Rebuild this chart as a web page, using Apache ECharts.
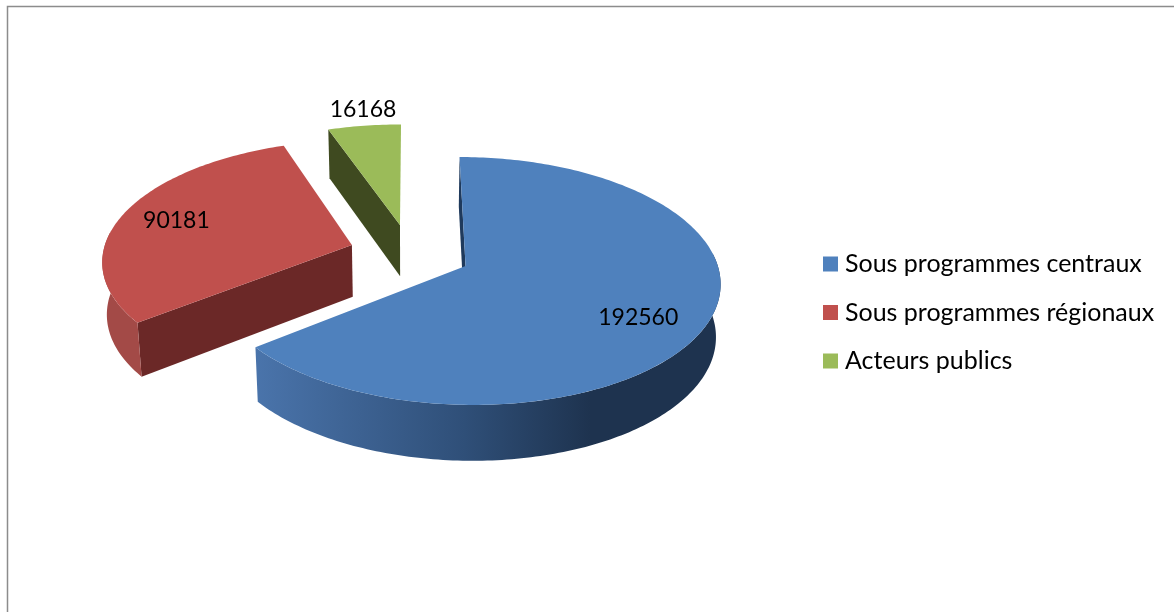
<!DOCTYPE html>
<html>
<head>
<meta charset="utf-8">
<title>Répartition par sous programme</title>
<style>
  html, body { margin: 0; padding: 0; background: #fff; }
  #chart { width: 1174px; height: 612px; }
</style>
<script src="https://cdn.jsdelivr.net/npm/echarts@6/dist/echarts.min.js"></script>
</head>
<body>
<div id="chart"></div>
<script>
const categories = ['Sous programmes centraux', 'Sous programmes régionaux', 'Acteurs publics']
const values = [192560, 90181, 16168]

const topColors = ['#4f81bd', '#c0504d', '#9bbb59']
const edgeColors = ['#1f3a5c', '#6b2827', '#3f4a20']
const wallStops = [
  [[0, '#4a74ab'], [0.45, '#2f4f78'], [0.72, '#1e334f'], [1, '#1e334f']],
  [[0, '#a34a47'], [1, '#a34a47']],
  [[0, '#3f4a20'], [1, '#3f4a20']],
]
const labelRadius = [0.755, 0.765, 1.18]
const labelTurn = [6, 0, 1]

// fake 3D: the disc is projected with a small perspective, ECharts has no 3D pie without GL
const CX = 410
const CY = 253
const RX = 249
const RY = 119
const PERSP = 0.12
const DEPTH = 52
const BASE_SHRINK = 0.015
const EXPLODE = 0.245
const FIRST_ANGLE = 0
// only this part of the rim faces the viewer
const WALL_FROM = 84
const WALL_TO = 276

const total = values.reduce((a, b) => a + b, 0)

function project(x, z, h) {
  const s = 1 / (1 - PERSP * z)
  return [CX + RX * x * s * (1 - BASE_SHRINK * h), CY + RY * z * s + DEPTH * h * Math.sqrt(s)]
}

function sliceRange(idx) {
  const before = values.slice(0, idx).reduce((a, b) => a + b, 0)
  return [FIRST_ANGLE + before / total * 360, FIRST_ANGLE + (before + values[idx]) / total * 360]
}

// angle is clockwise from the back of the pie
function diskPoint(idx, deg, r, h) {
  const [a0, a1] = sliceRange(idx)
  const mid = (a0 + a1) / 2 * Math.PI / 180
  const a = deg * Math.PI / 180
  const x = EXPLODE * Math.sin(mid) + r * Math.sin(a)
  const z = -EXPLODE * Math.cos(mid) - r * Math.cos(a)
  return project(x, z, h)
}

function arcPoints(idx, from, to, h) {
  const pts = []
  const n = Math.max(8, Math.ceil(Math.abs(to - from)))
  for (let i = 0; i <= n; i++) pts.push(diskPoint(idx, from + (to - from) * i / n, 1, h))
  return pts
}

function renderSlice(idx) {
  return function (params, api) {
    const [a0, a1] = sliceRange(idx)
    const tip = diskPoint(idx, a0, 0, 0)
    const tipLow = diskPoint(idx, a0, 0, 1)
    const top = arcPoints(idx, a0, a1, 0)
    const mid = (a0 + a1) / 2 + labelTurn[idx]
    const at = diskPoint(idx, mid, labelRadius[idx], 0)
    const children = [
      {
        type: 'polygon',
        shape: { points: [tip, top[0], diskPoint(idx, a0, 1, 1), tipLow] },
        style: { fill: edgeColors[idx] },
      },
    ]
    const w0 = Math.max(a0, WALL_FROM)
    const w1 = Math.min(a1, WALL_TO)
    if (w1 > w0) {
      children.push({
        type: 'polygon',
        shape: { points: arcPoints(idx, w0, w1, 0).concat(arcPoints(idx, w1, w0, 1)) },
        style: {
          fill: new echarts.graphic.LinearGradient(0, 0, 1, 0,
            wallStops[idx].map(([offset, color]) => ({ offset, color }))),
        },
      })
    }
    children.push(
      {
        type: 'polygon',
        shape: { points: [tip].concat(top) },
        style: { fill: topColors[idx] },
      },
      {
        type: 'text',
        x: at[0],
        y: at[1],
        style: {
          text: String(api.value(0)),
          fill: '#000',
          font: '23px Lato',
          align: 'center',
          verticalAlign: 'middle',
        },
      }
    )
    return { type: 'group', children }
  }
}

const chart = echarts.init(document.getElementById('chart'), null, { renderer: 'canvas' })

chart.setOption({
  backgroundColor: '#fff',
  animation: false,
  color: topColors,
  graphic: [
    {
      type: 'polyline',
      shape: { points: [[7.5, 612], [7.5, 6.5], [1174, 6.5]] },
      style: { stroke: '#8c8c8c', lineWidth: 1.5, fill: 'none' },
    },
  ],
  legend: {
    left: 818,
    top: 244,
    orient: 'vertical',
    itemWidth: 15,
    itemHeight: 15,
    itemGap: 18.5,
    icon: 'rect',
    selectedMode: false,
    data: categories,
    textStyle: { color: '#000', fontFamily: 'Lato', fontSize: 25, padding: [0, 0, 0, 2], lineHeight: 30 },
  },
  series: categories.map((name, idx) => ({
    name,
    type: 'custom',
    coordinateSystem: 'none',
    silent: true,
    // back slices first so the front one covers them
    z: 4 - idx,
    itemStyle: { color: topColors[idx] },
    renderItem: renderSlice(idx),
    data: [[values[idx]]],
  })),
})
</script>
</body>
</html>
